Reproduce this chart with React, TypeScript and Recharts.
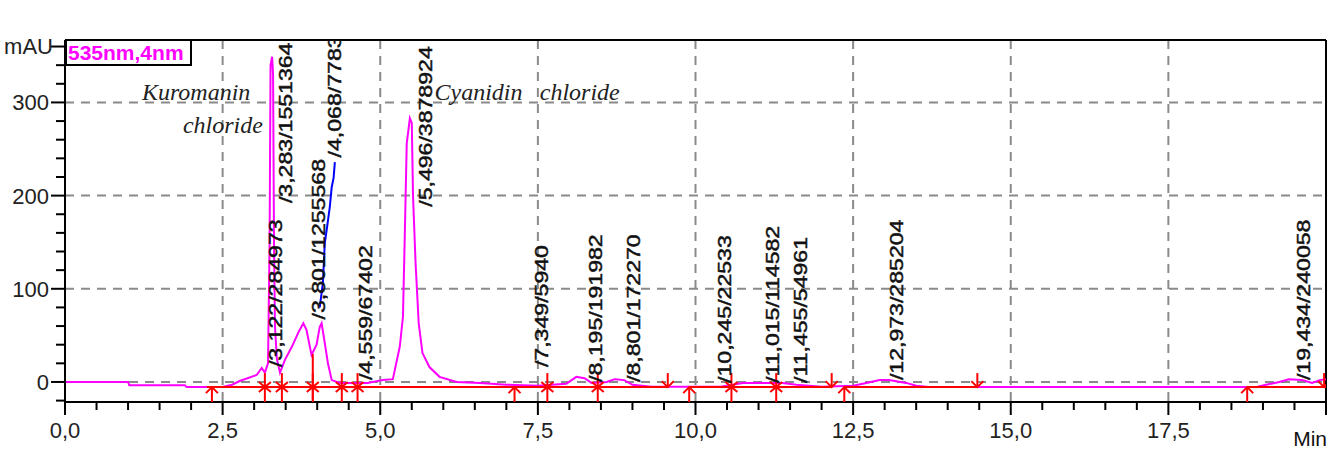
import React from 'react';
import {
    ComposedChart,
    Line,
    Scatter,
    XAxis,
    YAxis,
    CartesianGrid,
    ReferenceLine
} from 'recharts';

// 535nm trace (min / mAU)
const TRACE_T = [
    0, 1.0, 1.02, 1.9, 1.93, 2.5, 2.65, 2.77, 3.04, 3.12, 3.17, 3.22, 3.245, 3.26, 3.285, 3.3, 3.315, 3.33,
    3.36, 3.41, 3.49, 3.6, 3.7, 3.78, 3.83, 3.91, 3.99, 4.04, 4.07, 4.12, 4.17, 4.23, 4.36, 4.8, 5.04, 5.2,
    5.31, 5.36, 5.39, 5.42, 5.47, 5.5, 5.52, 5.56, 5.61, 5.67, 5.78, 5.94, 6.21, 6.58, 7.0, 7.5, 7.95, 8.11,
    8.24, 8.35, 8.59, 8.72, 8.87, 9.0, 9.3, 10.4, 10.75, 11.0, 11.38, 11.6, 12.0, 12.5, 12.71, 12.92, 13.07,
    13.34, 13.5, 13.7, 18.9, 19.05, 19.26, 19.41, 19.62, 19.78, 19.9, 20.0
];
const TRACE_MAU = [
    0, 0, -3.5, -3.5, -5.5, -5.5, -3, 1, 7.5, 15, 10, 20, 150, 340, 349, 330, 150, 60,
    25, 10, 24, 38, 53, 63, 56, 29, 40, 59, 63, 42, 20, 2, -1, -1, 2, 3,
    38, 70, 160, 256, 283, 278, 199, 128, 63, 31, 16, 5.5, 0, -1, -3, -4, -2, 5.5,
    4, -1, 0, 3, 2, -3, -5, -5, -1, -1, -1, -3, -5, -4, -1, 2, 2,
    -1, -4, -5.5, -5.5, -3, 0, 3, 2, -1, 2, 3
];

// blue overlay at the 4,068 peak
const OVERLAY_T = [4.04, 4.09, 4.12, 4.15, 4.2, 4.23, 4.26, 4.28];
const OVERLAY_MAU = [80, 106, 149, 163, 188, 209, 219, 236];

// integration baseline
const BASELINE_MAU = -5.5;
const BASELINE_START = [2.25, 9.9, 12.36, 18.75];
const BASELINE_END = [9.56, 12.16, 14.47, 20.0];
const DROP_T = 3.93;
const DROP_TOP = 30;

const ASTERISK_T = [3.17, 3.44, 3.93, 4.39, 4.64, 7.65, 8.45, 10.57, 11.28];
const UP_ARROW_T = [2.33, 7.13, 9.9, 12.36, 18.75];
const DOWN_ARROW_T = [9.56, 12.16, 14.47, 19.97];

// peak labels: retention time / area
const PEAK_T = [3.122, 3.283, 3.801, 4.068, 4.559, 5.496, 7.349, 8.195, 8.801, 10.245, 11.015, 11.455, 12.973, 19.434];
const PEAK_AREA = [284973, 1551364, 1255568, 778342, 67402, 3878924, 5940, 191982, 172270, 22533, 114582, 54961, 285204, 240058];
const PEAK_LABEL_MAU = [16, 192, 67, 241, 2, 188, 16, 0, 0, -1, -1, -1, 2, 2];

// compound names written on the chromatogram
const NOTE_TEXT = ['Kuromanin', 'chloride', 'Cyanidin', 'chloride'];
const NOTE_T = [1.22, 1.87, 5.86, 7.53];
const NOTE_MAU = [303, 267, 303, 303];

const X_TICKS = [
    0, 0.5, 1, 1.5, 2, 2.5, 3, 3.5, 4, 4.5, 5, 5.5, 6, 6.5, 7, 7.5, 8, 8.5, 9, 9.5, 10,
    10.5, 11, 11.5, 12, 12.5, 13, 13.5, 14, 14.5, 15, 15.5, 16, 16.5, 17, 17.5, 18, 18.5, 19, 19.5, 20
];
const X_MAJOR = [0, 2.5, 5, 7.5, 10, 12.5, 15, 17.5, 20];
const X_LABELS = ['0,0', '2,5', '5,0', '7,5', '10,0', '12,5', '15,0', '17,5', 'Min'];

const Y_TICKS = [-20, 0, 20, 40, 60, 80, 100, 120, 140, 160, 180, 200, 220, 240, 260, 280, 300, 320, 340, 360];
const Y_MAJOR = [0, 100, 200, 300, 360];
const Y_LABELS = ['0', '100', '200', '300', 'mAU'];

const GRID_X = [2.5, 5, 7.5, 10, 12.5, 15, 17.5];
const GRID_Y = [0, 100, 200, 300];

const X_MAX = 20;
const Y_MIN = -21.5;
const Y_MAX = 367;

const SANS = '"Liberation Sans", Arial, sans-serif';
const SERIF = '"Liberation Serif", "Times New Roman", serif';
const RED = '#ff0000';

const traceData = TRACE_T.map((t, i) => ({ t, v: TRACE_MAU[i] }));
const overlayData = OVERLAY_T.map((t, i) => ({ t, v: OVERLAY_MAU[i] }));
const baselineData = BASELINE_START.map((s, i) => [
    { t: s, v: BASELINE_MAU },
    { t: BASELINE_END[i], v: BASELINE_MAU }
]);
const asteriskData = ASTERISK_T.map(t => ({ t, v: BASELINE_MAU }));
const upArrowData = UP_ARROW_T.map(t => ({ t, v: BASELINE_MAU }));
const downArrowData = DOWN_ARROW_T.map(t => ({ t, v: BASELINE_MAU }));
const peakLabelData = PEAK_T.map((t, i) => ({
    t,
    v: PEAK_LABEL_MAU[i],
    text: `/${t.toFixed(3).replace('.', ',')}/${PEAK_AREA[i]}`
}));
const noteData = NOTE_T.map((t, i) => ({ t, v: NOTE_MAU[i], text: NOTE_TEXT[i] }));

const XTick = (props: any) => {
    const { x, y, payload } = props;
    const idx = X_MAJOR.indexOf(payload.value);
    const major = idx >= 0;
    const label = major ? X_LABELS[idx] : null;
    return (
        <g>
            <line x1={x} x2={x} y1={y} y2={y + (major ? 13 : 8)} stroke="#000" strokeWidth={2} />
            {label && label !== 'Min' && (
                <text x={x} y={y + 36} textAnchor="middle" fontSize={22} fontFamily={SANS} fill="#222">{label}</text>
            )}
            {label === 'Min' && (
                <text x={x + 1} y={y + 44} textAnchor="end" fontSize={21} fontFamily={SANS} fill="#111">{label}</text>
            )}
        </g>
    );
};

const YTick = (props: any) => {
    const { x, y, payload } = props;
    const idx = Y_MAJOR.indexOf(payload.value);
    const major = idx >= 0;
    const label = major ? Y_LABELS[idx] : null;
    return (
        <g>
            <line x1={x - (major ? 14 : 9)} x2={x} y1={y} y2={y} stroke="#000" strokeWidth={2} />
            {label && (
                <text x={x - (label === 'mAU' ? 12 : 16)} y={y} dy="0.36em" textAnchor="end" fontSize={22} fontFamily={SANS} fill="#222">
                    {label}
                </text>
            )}
        </g>
    );
};

const PeakLabel = (props: any) => {
    const { cx, cy, payload } = props;
    return (
        <text
            transform={`translate(${cx + 20},${cy}) rotate(-90) scale(1.32,1)`}
            fontSize={17.5}
            fontFamily={SANS}
            fill="#111"
            stroke="#111"
            strokeWidth={0.45}
        >
            {payload.text}
        </text>
    );
};

const Note = (props: any) => {
    const { cx, cy, payload } = props;
    return (
        <text x={cx} y={cy} fontSize={24} fontStyle="italic" fontFamily={SERIF} fill="#222">
            {payload.text}
        </text>
    );
};

const Asterisk = (props: any) => {
    const { cx, cy } = props;
    return (
        <g stroke={RED} strokeWidth={2}>
            <line x1={cx} x2={cx} y1={cy - 14} y2={cy + 15} />
            <line x1={cx - 7} x2={cx + 7} y1={cy} y2={cy} />
            <line x1={cx - 6} x2={cx + 6} y1={cy - 5} y2={cy + 5} />
            <line x1={cx - 6} x2={cx + 6} y1={cy + 5} y2={cy - 5} />
        </g>
    );
};

const UpArrow = (props: any) => {
    const { cx, cy } = props;
    return (
        <g stroke={RED} strokeWidth={2} fill="none">
            <line x1={cx} x2={cx} y1={cy} y2={cy + 15} />
            <polyline points={`${cx - 6},${cy + 6} ${cx},${cy} ${cx + 6},${cy + 6}`} />
        </g>
    );
};

const DownArrow = (props: any) => {
    const { cx, cy } = props;
    return (
        <g stroke={RED} strokeWidth={2} fill="none">
            <line x1={cx} x2={cx} y1={cy - 14} y2={cy} />
            <polyline points={`${cx - 6},${cy - 6} ${cx},${cy} ${cx + 6},${cy - 6}`} />
        </g>
    );
};

const App: React.FC = () => {
    return (
        <div style={{ position: 'absolute', left: 0, top: 0, width: 1330, height: 449, background: '#fff' }}>
            <ComposedChart width={1330} height={449} margin={{ top: 40, right: 4, bottom: 17, left: 5 }}>
                <CartesianGrid
                    horizontalValues={GRID_Y}
                    verticalValues={GRID_X}
                    stroke="#8a8a8a"
                    strokeWidth={2}
                    strokeDasharray="9 7"
                />
                <XAxis
                    type="number"
                    dataKey="t"
                    domain={[0, X_MAX]}
                    ticks={X_TICKS}
                    interval={0}
                    tickSize={0}
                    tickMargin={0}
                    tickLine={false}
                    tick={(p: any) => <XTick {...p} />}
                    axisLine={{ stroke: '#000', strokeWidth: 2 }}
                    height={30}
                    allowDataOverflow
                />
                <YAxis
                    type="number"
                    domain={[Y_MIN, Y_MAX]}
                    ticks={Y_TICKS}
                    interval={0}
                    tickSize={0}
                    tickMargin={0}
                    tickLine={false}
                    tick={(p: any) => <YTick {...p} />}
                    axisLine={{ stroke: '#000', strokeWidth: 2 }}
                    width={60}
                    allowDataOverflow
                />
                <ReferenceLine y={Y_MAX} stroke="#000" strokeWidth={2} ifOverflow="visible" />
                <ReferenceLine x={X_MAX} stroke="#000" strokeWidth={2} ifOverflow="visible" />

                <Line data={traceData} dataKey="v" type="linear" stroke="#ff00ff" strokeWidth={2} dot={false} isAnimationActive={false} />
                <Line data={overlayData} dataKey="v" type="linear" stroke="#0000ff" strokeWidth={2} dot={false} isAnimationActive={false} />
                {baselineData.map((seg, i) => (
                    <Line key={`base-${i}`} data={seg} dataKey="v" type="linear" stroke={RED} strokeWidth={2} dot={false} isAnimationActive={false} />
                ))}
                <ReferenceLine
                    segment={[{ x: DROP_T, y: DROP_TOP }, { x: DROP_T, y: Y_MIN }]}
                    stroke={RED}
                    strokeWidth={2}
                    ifOverflow="visible"
                />
                <Scatter data={asteriskData} dataKey="v" shape={(p: any) => <Asterisk {...p} />} isAnimationActive={false} />
                <Scatter data={upArrowData} dataKey="v" shape={(p: any) => <UpArrow {...p} />} isAnimationActive={false} />
                <Scatter data={downArrowData} dataKey="v" shape={(p: any) => <DownArrow {...p} />} isAnimationActive={false} />
                <Scatter data={peakLabelData} dataKey="v" shape={(p: any) => <PeakLabel {...p} />} isAnimationActive={false} />
                <Scatter data={noteData} dataKey="v" shape={(p: any) => <Note {...p} />} isAnimationActive={false} />
            </ComposedChart>

            {/* detector legend box */}
            <div
                style={{
                    position: 'absolute',
                    left: 65,
                    top: 39,
                    width: 127,
                    height: 27,
                    boxSizing: 'border-box',
                    border: '2px solid #000',
                    color: '#ff00ff',
                    fontFamily: SANS,
                    fontWeight: 'bold',
                    fontSize: 21,
                    lineHeight: '23px',
                    paddingLeft: 1,
                    whiteSpace: 'nowrap'
                }}
            >
                535nm,4nm
            </div>
        </div>
    );
};

export default App;
